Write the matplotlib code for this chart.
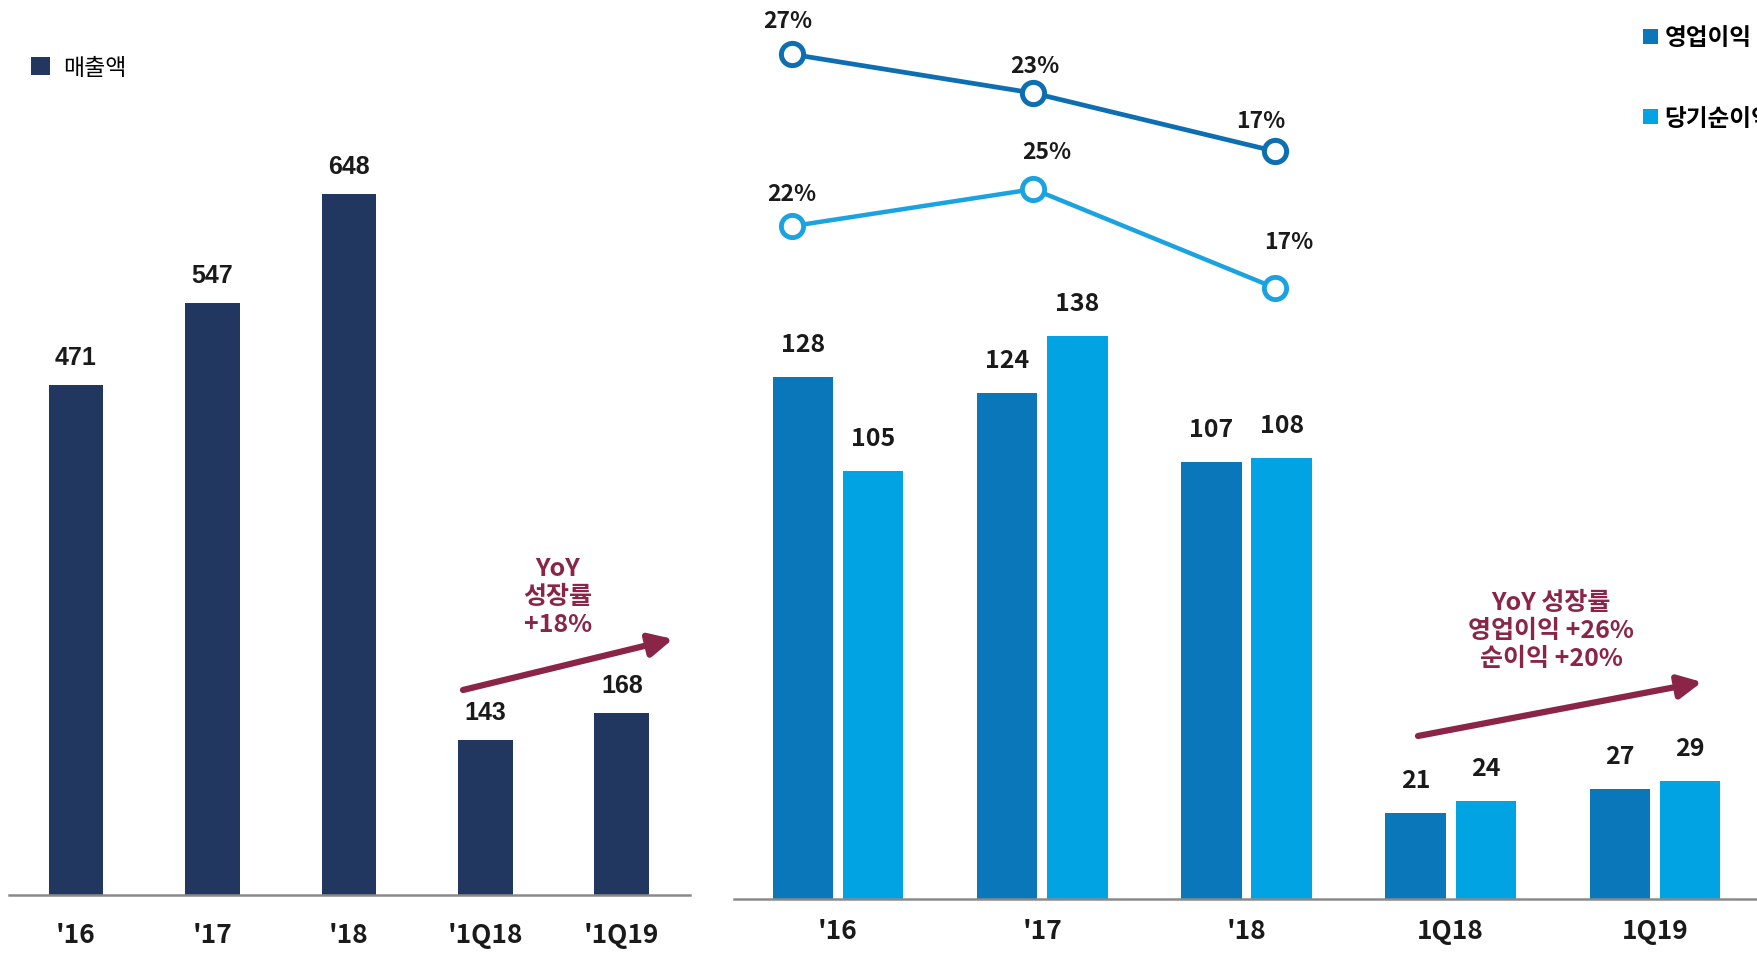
import matplotlib.pyplot as plt

plt.rcParams['font.family'] = ['Noto Sans CJK KR', 'DejaVu Sans']

# 데이터
left_cats = ["'16", "'17", "'18", "'1Q18", "'1Q19"]
sales = [471, 547, 648, 143, 168]

right_cats = ["'16", "'17", "'18", "1Q18", "1Q19"]
op_profit = [128, 124, 107, 21, 27]
net_profit = [105, 138, 108, 24, 29]

op_margin = [27, 23, 17]
net_margin = [22, 25, 17]

navy = '#22375f'
dark_blue = '#0a77bb'
light_blue = '#02a3e3'
maroon = '#8a2547'
grey_line = '#8a8a8a'

fig = plt.figure(figsize=(17.58, 9.54), dpi=100)

# 왼쪽: 매출액
ax1 = fig.add_axes([9 / 1758, 58 / 954, 681 / 1758, 896 / 954])
x1 = range(len(sales))
bars = ax1.bar(x1, sales, width=0.40, color=navy, label='매출액')
ax1.set_xlim(-0.49, 4.5)
ax1.set_ylim(0, 828)
for xi, v in zip(x1, sales):
    ax1.annotate(str(v), (xi, v), xytext=(0, 28), textcoords='offset pixels',
                 ha='center', va='center', fontsize=18, fontweight='bold',
                 family=['Liberation Sans'], color='#1a1a1a')
ax1.set_xticks(list(x1))
ax1.set_xticklabels(left_cats, fontsize=19, fontweight='bold', color='#1a1a1a')
ax1.tick_params(axis='x', length=0, pad=19)
ax1.set_yticks([])
for s in ['top', 'right', 'left']:
    ax1.spines[s].set_visible(False)
ax1.spines['bottom'].set_color(grey_line)
ax1.spines['bottom'].set_linewidth(1.8)
ax1.legend(handles=[bars], labels=['매출액'], loc='upper left',
           bbox_to_anchor=(22 / 1758, 1 - 48 / 954), bbox_transform=fig.transFigure,
           frameon=False, fontsize=16.5, handlelength=0.8, handleheight=0.8,
           handletextpad=0.6, borderaxespad=0)

ax1.annotate('', xy=(673 / 1758, 1 - 640 / 954), xytext=(463 / 1758, 1 - 691 / 954),
             xycoords='figure fraction',
             arrowprops=dict(arrowstyle='-|>,head_length=1.4,head_width=0.7',
                             color=maroon, lw=4.5, shrinkA=0, shrinkB=0))
fig.text(558 / 1758, 1 - 597 / 954, 'YoY\n성장률\n+18%', ha='center', va='center',
         fontsize=18, fontweight='bold', color=maroon, linespacing=1.2)

# 오른쪽: 영업이익 / 당기순이익
ax2 = fig.add_axes([734 / 1758, 54 / 954, 1024 / 1758, 900 / 954])
x2 = list(range(len(op_profit)))
off = 0.172
w = 0.296
b_op = ax2.bar([x - off for x in x2], op_profit, width=w, color=dark_blue, label='영업이익')
b_net = ax2.bar([x + off for x in x2], net_profit, width=w, color=light_blue, label='당기순이익')
ax2.set_xlim(-0.509, 4.504)
ax2.set_ylim(0, 220.6)
for xi, v in zip(x2, op_profit):
    ax2.annotate(str(v), (xi - off, v), xytext=(0, 33), textcoords='offset pixels',
                 ha='center', va='center', fontsize=18, fontweight='bold', color='#1a1a1a')
for xi, v in zip(x2, net_profit):
    ax2.annotate(str(v), (xi + off, v), xytext=(0, 33), textcoords='offset pixels',
                 ha='center', va='center', fontsize=18, fontweight='bold', color='#1a1a1a')
ax2.set_xticks(x2)
ax2.set_xticklabels(right_cats, fontsize=19, fontweight='bold', color='#1a1a1a')
ax2.tick_params(axis='x', length=0, pad=13)
ax2.set_yticks([])
for s in ['top', 'right', 'left']:
    ax2.spines[s].set_visible(False)
ax2.spines['bottom'].set_color(grey_line)
ax2.spines['bottom'].set_linewidth(1.8)
ax2.legend(handles=[b_op, b_net], loc='upper left',
           bbox_to_anchor=(1634 / 1758, 1 - 17 / 954), bbox_transform=fig.transFigure,
           frameon=False, handlelength=0.6, handleheight=0.6,
           handletextpad=0.3, labelspacing=2.4, borderaxespad=0,
           prop={'weight': 'bold', 'size': 17})

# 이익률 선
ax3 = fig.add_axes(ax2.get_position(), facecolor='none')
ax3.set_xlim(-0.24, 4.0)
ax3.set_ylim(-60.1, 32.7)
ax3.plot(range(len(op_margin)), op_margin, color='#0d6fb2', lw=3.4, marker='o',
         markersize=16, markerfacecolor='white', markeredgewidth=3.6)
ax3.axis('off')

ax4 = fig.add_axes(ax2.get_position(), facecolor='none')
ax4.set_xlim(-0.24, 4.0)
ax4.set_ylim(-32.5, 40.4)
ax4.plot(range(len(net_margin)), net_margin, color='#1aa3e0', lw=3.2, marker='o',
         markersize=16, markerfacecolor='white', markeredgewidth=3.5)
ax4.axis('off')

op_offsets = [(-4, 34), (1, 28), (-14, 31)]
net_offsets = [(0, 33), (13, 38), (14, 46)]
for i, v in enumerate(op_margin):
    ax3.annotate(f'{v}%', (i, v), xytext=op_offsets[i], textcoords='offset pixels',
                 ha='center', va='center', fontsize=16.5, fontweight='bold', color='#1a1a1a')
for i, v in enumerate(net_margin):
    ax4.annotate(f'{v}%', (i, v), xytext=net_offsets[i], textcoords='offset pixels',
                 ha='center', va='center', fontsize=16.5, fontweight='bold', color='#1a1a1a')

ax4.annotate('', xy=(1702 / 1758, 1 - 683 / 954), xytext=(1418 / 1758, 1 - 737 / 954),
             xycoords='figure fraction',
             arrowprops=dict(arrowstyle='-|>,head_length=1.4,head_width=0.7',
                             color=maroon, lw=4.5, shrinkA=0, shrinkB=0))
fig.text(1551 / 1758, 1 - 631 / 954, 'YoY 성장률\n영업이익 +26%\n순이익 +20%',
         ha='center', va='center', fontsize=18, fontweight='bold', color=maroon,
         linespacing=1.2)

fig.savefig('out.png', dpi=100)
